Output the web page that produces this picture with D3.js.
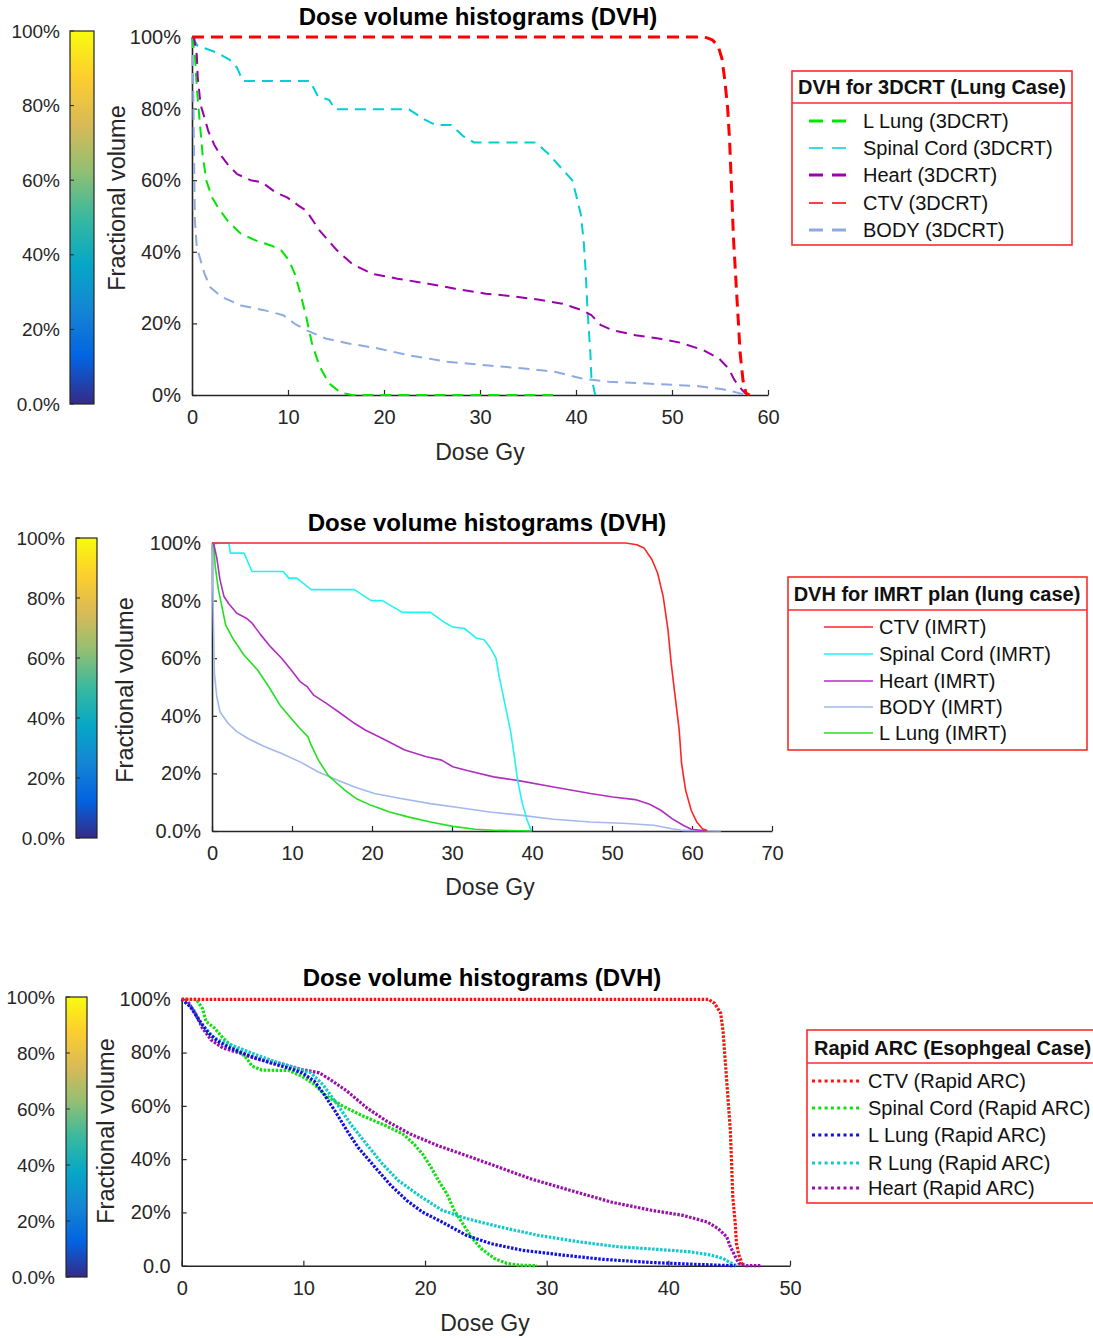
<!DOCTYPE html>
<html><head><meta charset="utf-8">
<script src="https://cdn.jsdelivr.net/npm/d3@7"></script>
<style>body{margin:0;background:#fff}</style>
</head><body>
<svg id="c" width="1093" height="1338"></svg>
<script>
// ---------- DATA (dose Gy, fractional volume %) ----------
// Panel 1: 3DCRT lung case
const crt_LLung = [[0,100],[0.3,95],[0.5,85.8],[0.8,76.5],[1.1,67.3],[1.5,59.8],[2.1,55.2],[2.7,52.4],[3.7,48.7],[5.1,45],[6.7,43.1],[8.3,41.7],[9.3,40.4],[10.1,37.6],[10.7,33.9],[11.3,28.3],[11.9,21.8],[12.5,14.4],[13.3,7.9],[14.3,3.2],[15.5,0.6],[16.7,0],[37.6,0]];
const crt_Spinal = [[0,100],[0.6,97.5],[1.7,96.5],[2.7,95.5],[3.9,93.7],[4.7,91.4],[5.3,87.7],[12.3,87.7],[13.1,83.5],[14.3,82.4],[14.9,79.8],[22.6,79.8],[24.2,77],[25.4,75.4],[27,75.4],[28.2,72.4],[29.4,70.5],[35.8,70.5],[37,67.7],[38.6,63],[39.6,60],[40,56],[40.5,50.5],[40.8,43],[41,34.8],[41.2,23.7],[41.5,11.6],[41.6,5],[42,0]];
const crt_Heart = [[0,100],[0.2,100],[0.5,95],[0.6,88.6],[0.9,81],[1.3,77.5],[1.7,73.7],[2.3,70],[2.9,67.3],[3.7,64.5],[4.7,61.7],[6.1,60],[7.3,59.4],[8.7,56.6],[9.9,55.2],[11.1,52.9],[11.9,51.5],[13.3,45.9],[15.1,40.4],[16.7,36.6],[18.7,33.9],[21.4,32.5],[24.6,31.1],[27.4,29.7],[30.6,28.3],[33.4,27.6],[36.2,26.6],[38.6,25.5],[40.6,23.7],[41.6,22.3],[42.6,19.5],[43.8,18.1],[46.2,16.7],[48.6,15.8],[50.9,14.6],[53.3,12.5],[54.9,10.2],[55.9,7.4],[56.5,4.2],[57.3,1.4],[57.7,0.3]];
const crt_CTV = [[0,100],[53.4,100],[54.2,99.2],[54.8,97.5],[55.2,94],[55.5,88],[55.8,80],[56.0,71],[56.2,58],[56.4,44],[56.7,30],[56.9,21],[57.1,11.6],[57.4,4],[57.7,0.5],[58.1,0]];
const crt_Body = [[0,100],[0.1,90],[0.2,70],[0.3,48.7],[0.5,41.3],[0.9,37.6],[1.3,33.9],[1.9,30.1],[3.1,27.4],[5.1,25],[7.5,23.7],[9.5,22.3],[10.7,19.9],[11.9,18.1],[13.9,15.8],[16.3,14.4],[19.4,13],[22.6,11.1],[26.6,9.3],[30.6,8.3],[34.6,7.4],[37.8,6.5],[40.6,4.6],[43.4,3.7],[47.4,3.2],[52.6,2.5],[55.3,1.6],[56.9,0.6],[57.7,0]];

// Panel 2: IMRT lung case
const imrt_CTV = [[0,100],[51.7,100],[53.1,99.4],[54,98.3],[55,94.2],[55.7,89.6],[56.4,81.4],[57,69.8],[57.4,58.2],[57.9,46.6],[58.4,35],[58.7,23.4],[59.2,14.2],[59.9,7.2],[60.6,3.1],[61.3,0.8],[61.9,0.2]];
const imrt_Spinal = [[0,100],[2.1,100],[2.3,96.5],[4,96.5],[5,90.1],[8.9,90.1],[9.6,87.8],[10.6,87.8],[12.4,83.8],[17.8,83.8],[19.9,80],[21.3,80],[23.8,75.9],[27.3,75.9],[29.2,72.2],[30.1,70.8],[31.5,70.4],[33.1,66.9],[34,66.4],[34.7,64],[35.5,60],[35.9,53.6],[36.6,44.3],[37.3,35],[37.8,25.8],[38.2,17.6],[38.8,9.5],[39.4,3.7],[39.9,0.2]];
const imrt_Heart = [[0,100],[0.2,100],[0.6,94.8],[1,87.2],[1.5,81.4],[2.1,78.9],[3.1,75.6],[4.3,73.9],[5,72.2],[6.1,68.1],[7.3,64],[8.7,60],[9.9,55.9],[11,51.9],[11.9,50.1],[12.7,47.2],[14.3,44.3],[16.1,40.8],[17.8,37.4],[19.2,35],[21.3,32.1],[24.1,28.1],[26.8,25.8],[28.7,24.6],[30.1,22.3],[32,20.9],[35.2,18.8],[38.5,17.4],[42.7,15.3],[47.3,13],[50.1,11.8],[52.9,10.9],[54.7,9.3],[56.1,7.2],[57.5,4.3],[58.9,2],[59.9,0.6],[61.3,0.2],[61.7,0]];
const imrt_Body = [[0,100],[0.1,85],[0.2,69.8],[0.3,54.8],[0.6,46.6],[1,41.4],[2,37.4],[3.1,34.5],[4.5,32.1],[6.4,29.5],[8.7,26.9],[11,24],[13.3,20.5],[15.7,17.6],[18,15.1],[20.3,13],[23.6,11.3],[27.3,9.5],[31,8.1],[34.7,6.6],[38.5,5.5],[42.7,4.1],[47.3,3.1],[51.9,2.6],[55.2,2],[57.5,0.8],[58.9,0.2],[63.6,0]];
const imrt_LLung = [[0,100],[0.2,100],[0.4,91.9],[0.8,83.8],[1.2,78.5],[1.7,71.6],[2.7,66.4],[4,61.1],[5.7,55.9],[7.1,50.1],[8.5,43.7],[9.9,39.1],[11,35.6],[12,32.7],[12.4,29.8],[13.3,24.6],[14.5,19.4],[15.4,17.1],[16.6,14.2],[18,11.3],[19.9,8.9],[22.2,6.6],[24.5,4.9],[27.3,3.1],[30.1,1.6],[32.9,0.6],[35.7,0.2],[40,0]];

// Panel 3: Rapid ARC esophageal case
const arc_CTV = [[0,100],[43.3,100],[43.8,98.5],[44.3,94.8],[44.5,88],[44.7,75.5],[44.9,63],[45.1,50.6],[45.2,38.2],[45.3,25.7],[45.5,15.8],[45.6,8.3],[45.8,4],[46,1.5],[46.1,0.2]];
const arc_Spinal = [[0,100],[1.2,100],[1.7,96.6],[2,91.7],[2.7,89.2],[3.4,85.4],[4.3,81.7],[5.2,78.6],[5.8,74.9],[6.6,73.4],[8.8,73.3],[9.9,71.1],[10.9,68],[11.9,63.7],[13.2,60],[14.9,56.2],[16.8,52.5],[18.2,49.4],[19.1,45.6],[19.8,41.9],[20.5,36.9],[21.1,32],[21.8,27],[22.4,20.8],[23.1,15.8],[23.8,10.8],[24.6,6.5],[25.7,2.7],[26.7,0.9],[27.7,0.2],[29.2,0]];
const arc_LLung = [[0,100],[0.7,97.3],[1.5,91.7],[2.2,87.3],[3,84.2],[4,81.7],[5.7,78.6],[7.3,76.1],[8.9,74],[9.9,72.4],[10.9,69.3],[11.7,64.3],[12.6,58.1],[13.6,50.6],[14.5,44.4],[15.9,36.9],[17.2,30.1],[18.5,24.5],[19.8,20.1],[21.4,16.4],[23.4,11.4],[25.4,8.3],[28,5.8],[31.3,4],[34.6,2.4],[38.6,1.2],[41.8,0.6],[44.1,0.2],[45.5,0]];
const arc_RLung = [[0,100],[0.9,96.6],[1.7,90.4],[2.7,85.4],[4,83],[5.7,79.9],[7.6,76.7],[9.3,74.3],[10.6,72.4],[11.6,68],[12.6,61.8],[13.9,53.1],[15.2,45.6],[16.5,38.2],[17.8,32],[19.5,26.4],[21.4,20.8],[23.4,17.7],[26.1,14.6],[29.3,11.4],[32.6,9],[35.9,7.1],[39.2,6.1],[41.8,5.2],[43.5,4],[44.5,2.7],[45.1,1.1],[45.6,0]];
const arc_Heart = [[0,100],[0.4,100],[1.1,94.8],[1.7,89.2],[2.4,84.8],[3.4,81.7],[4.7,79.9],[6.3,77.4],[8.3,75.7],[9.9,73.6],[11.3,72.4],[12.2,69.9],[13.6,65.5],[15.2,59.3],[16.8,54.4],[18.8,49.4],[21.1,45],[23.8,40.7],[26.1,36.9],[28.7,32.6],[32,28.2],[35.3,23.9],[38.6,20.8],[41.2,18.9],[43.2,16.4],[44.1,13.9],[44.8,10.8],[45.1,7.1],[45.5,3.4],[45.8,0.9],[46.4,0],[47.6,0]];

// tick values / labels
const yTickVals = [0,20,40,60,80,100];
const yLabels1 = ["0%","20%","40%","60%","80%","100%"];
const yLabels2 = ["0.0%","20%","40%","60%","80%","100%"];
const yLabels3 = ["0.0","20%","40%","60%","80%","100%"];
const cbLabels = ["0.0%","20%","40%","60%","80%","100%"];
const xTicks1 = [0,10,20,30,40,50,60];
const xTicks2 = [0,10,20,30,40,50,60,70];
const xTicks3 = [0,10,20,30,40,50];
const legendTitles = ["DVH for 3DCRT (Lung Case)","DVH for IMRT plan (lung case)","Rapid ARC (Esophgeal Case)"];
const names1 = ["L Lung (3DCRT)","Spinal Cord (3DCRT)","Heart (3DCRT)","CTV (3DCRT)","BODY (3DCRT)"];
const names2 = ["CTV (IMRT)","Spinal Cord (IMRT)","Heart (IMRT)","BODY (IMRT)","L Lung (IMRT)"];
const names3 = ["CTV (Rapid ARC)","Spinal Cord (Rapid ARC)","L Lung (Rapid ARC)","R Lung (Rapid ARC)","Heart (Rapid ARC)"];

// ---------- DRAW ----------
const FONT = "'Liberation Sans', Arial, Helvetica, sans-serif";
const AX = "#262626";
const svg = d3.select("#c").style("font-family", FONT);

const defs = svg.append("defs");
const parula = ["#352a87","#0363e1","#1485d4","#06a7c6","#38b99e","#92bf73","#d9ba56","#fcce2e","#f9fb0e"];
const grad = defs.append("linearGradient").attr("id","parula").attr("x1",0).attr("y1",1).attr("x2",0).attr("y2",0);
parula.forEach((c,i)=>grad.append("stop").attr("offset",i/(parula.length-1)).attr("stop-color",c));

function colorbar(o){
  const g = svg.append("g");
  const s = d3.scaleLinear().domain([0,100]).range([o.y1,o.y0]);
  g.append("rect").attr("x",o.x0).attr("y",o.y0).attr("width",o.x1-o.x0).attr("height",o.y1-o.y0)
    .attr("fill","url(#parula)").attr("stroke",AX).attr("stroke-width",1.2);
  yTickVals.forEach((v,i)=>{
    g.append("line").attr("x1",o.x0).attr("x2",o.x0+4).attr("y1",s(v)).attr("y2",s(v)).attr("stroke",AX).attr("stroke-width",1);
    g.append("text").attr("x",o.lx).attr("y",s(v)).attr("dy","0.35em").attr("text-anchor","end")
      .attr("font-size",19).attr("fill",AX).text(cbLabels[i]);
  });
}

function panel(o){
  const g = svg.append("g");
  const x = d3.scaleLinear().domain(o.xDomain).range([o.x0,o.x1]);
  const y = d3.scaleLinear().domain([0,100]).range([o.y0,o.y1]);
  const ya = d3.axisLeft(y).tickValues(yTickVals).tickFormat((d,i)=>o.yLabels[i]).tickSize(-5).tickSizeOuter(0).tickPadding(11);
  const xa = d3.axisBottom(x).tickValues(o.xTicks).tickFormat(d3.format("d")).tickSize(-5).tickSizeOuter(0).tickPadding(15);
  [g.append("g").attr("transform",`translate(${o.x0},0)`).call(ya),
   g.append("g").attr("transform",`translate(0,${o.y0})`).call(xa)].forEach(a=>{
    a.select(".domain").attr("stroke",AX).attr("stroke-width",1.6);
    a.selectAll(".tick line").attr("stroke",AX).attr("stroke-width",1.2);
    a.selectAll(".tick text").attr("fill",AX).attr("font-size",20).attr("font-family",FONT);
  });
  const line = d3.line().x(d=>x(d[0])).y(d=>y(d[1]));
  o.series.forEach(s=>{
    g.append("path").attr("d",line(s.data)).attr("fill","none").attr("stroke",s.color)
      .attr("stroke-width",s.w).attr("stroke-dasharray",s.dash||null).attr("stroke-linejoin","round");
  });
  g.append("text").attr("x",o.tx).attr("y",o.ty).attr("text-anchor","middle").attr("font-weight","bold")
    .attr("font-size",24).attr("fill","#000").text("Dose volume histograms (DVH)");
  g.append("text").attr("x",o.xlx).attr("y",o.xly).attr("text-anchor","middle").attr("font-size",23).attr("fill",AX).text("Dose Gy");
  g.append("text").attr("transform",`translate(${o.ylx},${o.yly}) rotate(-90)`).attr("text-anchor","middle")
    .attr("dy","0.35em").attr("font-size",23.5).attr("fill",AX).text("Fractional volume");
}

function legend(o){
  const g = svg.append("g");
  g.append("rect").attr("x",o.x0).attr("y",o.y0).attr("width",o.x1-o.x0).attr("height",o.y1-o.y0)
    .attr("fill","#fff").attr("stroke","#ff2a2a").attr("stroke-width",1.6);
  g.append("line").attr("x1",o.x0).attr("x2",o.x1).attr("y1",o.sep).attr("y2",o.sep).attr("stroke","#ff2a2a").attr("stroke-width",1.4);
  g.append("text").attr("x",o.tx).attr("y",o.ty).attr("dy","0.35em").attr("text-anchor",o.tanchor||"middle")
    .attr("font-weight","bold").attr("font-size",20).attr("fill","#111").text(o.title);
  o.items.forEach((it,i)=>{
    const yy = o.rows[i];
    g.append("line").attr("x1",o.lx0).attr("x2",o.lx1).attr("y1",yy).attr("y2",yy)
      .attr("stroke",it.color).attr("stroke-width",it.w).attr("stroke-dasharray",it.dash||null);
    g.append("text").attr("x",o.textx).attr("y",yy).attr("dy","0.35em").attr("font-size",20).attr("fill","#111").text(o.names[i]);
  });
}

// colours
const C1 = {green:"#00e600", cyan:"#00cfd6", purple:"#9c00ae", red:"#ff0000", body:"#8eaae2"};
const C2 = {red:"#ff2424", cyan:"#22f2f2", purple:"#b02ec0", body:"#a2b8ee", green:"#22e022"};
const C3 = {red:"#ff1010", green:"#10e010", blue:"#1010e0", cyan:"#10caca", purple:"#9a10aa"};

// Panel 1
colorbar({x0:70,x1:94,y0:31,y1:404,lx:60});
panel({xDomain:[0,60],x0:192,x1:768,y0:395,y1:37,xTicks:xTicks1,yLabels:yLabels1,
  tx:478,ty:25,xlx:480,xly:460,ylx:117,yly:198,
  series:[
    {data:crt_Body,color:C1.body,w:2,dash:"11,7"},
    {data:crt_LLung,color:C1.green,w:2,dash:"11,7"},
    {data:crt_Spinal,color:C1.cyan,w:2,dash:"11,7"},
    {data:crt_Heart,color:C1.purple,w:2,dash:"11,7"},
    {data:crt_CTV,color:C1.red,w:3,dash:"12,7"}
  ]});
legend({x0:792,x1:1072,y0:71,y1:245,sep:103,tx:932,ty:87,title:legendTitles[0],
  lx0:809,lx1:852,textx:863,rows:[121,148,175,203,230],names:names1,
  items:[{color:C1.green,w:3,dash:"14,9"},{color:C1.cyan,w:1.5,dash:"14,9"},{color:C1.purple,w:3,dash:"14,9"},{color:C1.red,w:1.5,dash:"14,9"},{color:C1.body,w:3,dash:"14,9"}]});

// Panel 2
colorbar({x0:76,x1:97,y0:538,y1:838,lx:65});
panel({xDomain:[0,70],x0:212,x1:772,y0:831,y1:543,xTicks:xTicks2,yLabels:yLabels2,
  tx:487,ty:531,xlx:490,xly:895,ylx:125,yly:690,
  series:[
    {data:imrt_Body,color:C2.body,w:1.6},
    {data:imrt_LLung,color:C2.green,w:1.6},
    {data:imrt_Heart,color:C2.purple,w:1.6},
    {data:imrt_Spinal,color:C2.cyan,w:1.6},
    {data:imrt_CTV,color:C2.red,w:1.6}
  ]});
legend({x0:788,x1:1087,y0:577,y1:750,sep:610,tx:937,ty:594,title:legendTitles[1],
  lx0:824,lx1:873,textx:879,rows:[627,654,681,707,733],names:names2,
  items:[{color:C2.red,w:1.6},{color:C2.cyan,w:1.6},{color:C2.purple,w:1.6},{color:C2.body,w:1.6},{color:C2.green,w:1.6}]});

// Panel 3
colorbar({x0:66,x1:87,y0:997,y1:1277,lx:55});
panel({xDomain:[0,50],x0:181.7,x1:790,y0:1265.7,y1:999.3,xTicks:xTicks3,yLabels:yLabels3,
  tx:482,ty:986,xlx:485,xly:1331,ylx:106,yly:1131,
  series:[
    {data:arc_Heart,color:C3.purple,w:3.2,dash:"2.5,1.5"},
    {data:arc_Spinal,color:C3.green,w:3.2,dash:"2.5,1.5"},
    {data:arc_RLung,color:C3.cyan,w:3.2,dash:"2.5,1.5"},
    {data:arc_LLung,color:C3.blue,w:3.2,dash:"2.5,1.5"},
    {data:arc_CTV,color:C3.red,w:3.2,dash:"2.5,1.5"}
  ]});
legend({x0:807,x1:1110,y0:1030,y1:1203,sep:1063,tx:814,ty:1048,tanchor:"start",title:legendTitles[2],
  lx0:812,lx1:862,textx:868,rows:[1081,1108,1135,1163,1188],names:names3,
  items:[{color:C3.red,w:3,dash:"3,3.3"},{color:C3.green,w:3,dash:"3,3.3"},{color:C3.blue,w:3,dash:"3,3.3"},{color:C3.cyan,w:3,dash:"3,3.3"},{color:C3.purple,w:3,dash:"3,3.3"}]});
</script>
</body></html>
